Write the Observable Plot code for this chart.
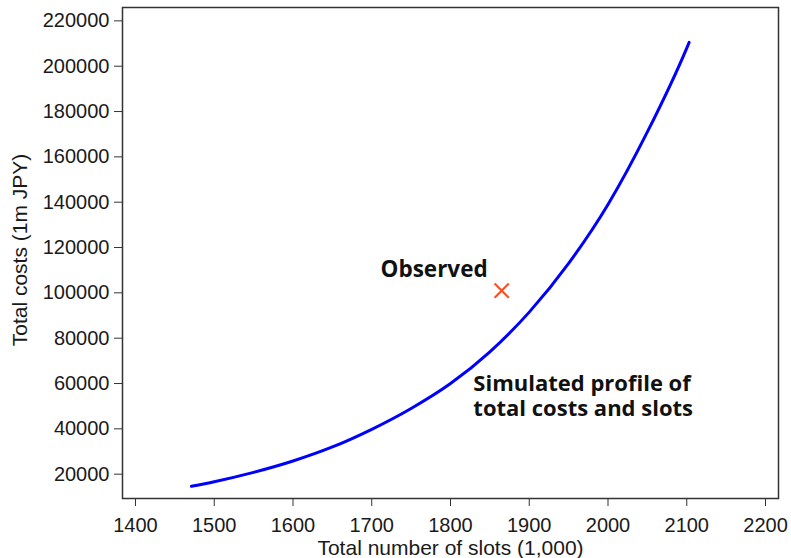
<!DOCTYPE html>
<html>
<head>
<meta charset="utf-8">
<script src="https://cdn.jsdelivr.net/npm/d3@7"></script>
<script src="https://cdn.jsdelivr.net/npm/@observablehq/plot@0.6"></script>
<style>
  html, body { margin: 0; padding: 0; background: #fff; }
</style>
</head>
<body>
<div id="chart"></div>
<script>
// Simulated profile: total number of slots (1,000) vs total costs (1m JPY)
const slots = [1471, 1500, 1550, 1600, 1650, 1700, 1750, 1800, 1850, 1900, 1950, 2000, 2050, 2100, 2103];
const costs = [14700, 16700, 20800, 25800, 32000, 39800, 49000, 60000, 74000, 91500, 113000, 139000, 171000, 208000, 210500];

// Observed point
const observedSlots = [1865];
const observedCosts = [101000];

// Axis ticks
const xTicks = [1400, 1500, 1600, 1700, 1800, 1900, 2000, 2100, 2200];
const yTicks = [20000, 40000, 60000, 80000, 100000, 120000, 140000, 160000, 180000, 200000, 220000];

const xTitle = "Total number of slots (1,000)";
const yTitle = "Total costs (1m JPY)";
const observedLabel = "Observed";
const profileLabel = "Simulated profile of\ntotal costs and slots";

const profile = slots.map((s, i) => ({slots: s, costs: costs[i]}));
const observed = observedSlots.map((s, i) => ({slots: s, costs: observedCosts[i]}));

const tickFont = "'Liberation Sans', Arial, sans-serif";
const noteFont = "'Open Sans', sans-serif";

const chart = Plot.plot({
  width: 791,
  height: 558,
  marginLeft: 122,
  marginRight: 13,
  marginTop: 7,
  marginBottom: 60,
  style: {fontFamily: tickFont, color: "#1a1a1a", background: "#fff"},
  x: {domain: [1383.5, 2216.5]},
  y: {domain: [9270, 225900]},
  marks: [
    Plot.axisX({ticks: xTicks, tickSize: 8, tickPadding: 11, fontSize: 20, stroke: "#333", label: null, tickFormat: d => String(d)}),
    Plot.axisY({ticks: yTicks, tickSize: 8, tickPadding: 5, fontSize: 20, stroke: "#333", label: null, tickFormat: d => String(d)}),
    Plot.frame({stroke: "#333", strokeWidth: 1.5}),
    Plot.text([xTitle], {frameAnchor: "bottom", dy: 56, lineAnchor: "bottom", fontSize: 21, fontFamily: tickFont, fill: "#1a1a1a"}),
    Plot.text([yTitle], {frameAnchor: "left", textAnchor: "middle", dx: -102, dy: -3, rotate: -90, fontSize: 21, fontFamily: tickFont, fill: "#1a1a1a"}),
    Plot.line(profile, {x: "slots", y: "costs", stroke: "#0000ff", strokeWidth: 3, strokeLinecap: "round", curve: "monotone-x"}),
    Plot.dot(observed, {x: "slots", y: "costs", symbol: "times", r: 6.5, stroke: "#ff4b1f", strokeWidth: 2}),
    Plot.text(observed, {x: "slots", y: "costs", text: () => observedLabel, textAnchor: "end", lineAnchor: "bottom", dx: -14, dy: -14, fontSize: 22.5, fontWeight: "bold", fontFamily: noteFont, fill: "#111"}),
    Plot.text([profileLabel], {x: () => 1829, y: () => 54750, textAnchor: "start", lineAnchor: "middle", lineHeight: 1.12, fontSize: 22, fontWeight: "bold", fontFamily: noteFont, fill: "#111"})
  ]
});

document.getElementById("chart").appendChild(chart);
</script>
</body>
</html>
